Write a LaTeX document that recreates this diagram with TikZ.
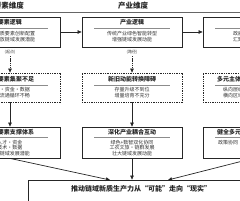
\documentclass[tikz,border=0pt]{standalone}
\usepackage{fontspec}
\setmainfont{Noto Sans CJK SC}
\usetikzlibrary{arrows.meta,calc}
\begin{document}
\begin{tikzpicture}[x=1pt,y=-1pt,
  box/.style={draw=black!85, line width=0.8pt, minimum width=100pt, inner sep=0pt},
  dbox/.style={box, dash pattern=on 1.3pt off 1pt},
  hdr/.style={font=\bfseries\fontsize{7.5}{7.5}\selectfont, inner sep=0pt, text=black!85},
  ttl/.style={font=\bfseries\fontsize{6}{6}\selectfont, inner sep=0pt, text=black!85},
  txt/.style={font=\fontsize{5}{5}\selectfont, inner sep=0pt, text=black!80},
  lab/.style={font=\fontsize{4}{4}\selectfont, inner sep=0pt, text=black!75},
  sep/.style={draw=black!45, line width=0.4pt},
  arr/.style={-{Triangle[length=4pt,width=3.6pt]}, line width=0.7pt, draw=black!85},
  darr/.style={arr, dash pattern=on 1.2pt off 0.9pt}
]
\useasboundingbox (0,0) rectangle (240,200);
% headers
\node[hdr] (H1) at (9,6) {要素维度};
\node[hdr] (H2) at (133,6) {产业维度};
\draw[draw=black!60, line width=0.6pt] (-50,12) -- (300,12);
% row 1
\node[box, minimum height=30pt] (L1) at (10,32) {};
\node[box, minimum height=30pt] (M1) at (132,32) {};
\node[box, minimum height=30pt] (R1) at (253,32) {};
\node[ttl] (L1t) at (10,22.5) {要素逻辑};
\node[ttl] (M1t) at (132,22.5) {产业逻辑};
\node[ttl] (R1t) at (254,22.5) {政策逻辑};
\foreach \c in {10,132,253} \draw[sep] (\c-38,28) -- (\c+38,28);
\node[txt] (L1a) at (10,33.5) {推进优质要素创新配置};
\node[txt] (L1b) at (10,40) {激发释放链域发展潜能};
\node[txt] (M1a) at (132,33.5) {传统产业绿色智能转型};
\node[txt] (M1b) at (132,40) {增强链域发展动能};
\node[txt] (R1a) at (253,33.5) {政府市场协同发力};
\node[txt] (R1b) at (253,40) {汇聚链域发展合力};
\draw[arr] (L1.east) -- (M1.west);
\draw[arr] (M1.east) -- (R1.west);
% labels
\node[lab] (La) at (10,52) {(起点)};
\node[lab] (Ma) at (132,52) {(路径)};
% row 2
\node[dbox, minimum height=29pt] (L2) at (10,87.5) {};
\node[dbox, minimum height=29pt] (M2) at (132,87.5) {};
\node[dbox, minimum height=29pt] (R2) at (253,87.5) {};
\draw[darr] (La.south) ++(0,2) -- (L2.north);
\draw[darr] (Ma.south) ++(0,2) -- (M2.north);
\node[ttl] (L2t) at (10,79.5) {创新要素集聚不足};
\node[ttl] (M2t) at (132,79.5) {新旧动能转换障碍};
\node[ttl] (R2t) at (253,79.5) {多元主体协同联动机制不畅};
\foreach \c in {10,132,253} \draw[sep] (\c-38,85) -- (\c+38,85);
\node[txt] (L2a) at (10,90) {人才·资金·数据};
\node[txt] (L2b) at (10,96) {跨域流通循环不畅};
\node[txt] (M2a) at (132,90) {存量升级不到位};
\node[txt] (M2b) at (132,96) {增量培育不充分};
\node[txt] (R2a) at (253,90) {纵向层级联动机制不够紧密};
\node[txt] (R2b) at (253,96) {横向区域协作共享不够充分};
% row 3
\node[box, minimum height=31pt] (L3) at (10,142.5) {};
\node[box, minimum height=31pt] (M3) at (132,142.5) {};
\node[box, minimum height=31pt] (R3) at (253,142.5) {};
\draw[arr] (L2.south) -- (L3.north);
\draw[arr] (M2.south) -- (M3.north);
\node[ttl] (L3t) at (10,132.5) {强化要素支撑体系};
\node[ttl] (M3t) at (132,132.5) {深化产业耦合互动};
\node[ttl] (R3t) at (253,132.5) {健全多元主体协同治理体系};
\foreach \c in {10,132,253} \draw[sep] (\c-38,137.5) -- (\c+38,137.5);
\node[txt] (L3a) at (10,142.5) {人才·资金};
\node[txt] (L3b) at (10,148) {技术·数据};
\node[txt] (L3c) at (10,153.5) {激发链域发展潜能};
\node[txt] (M3a) at (132,142.5) {绿色+数智双化协同};
\node[txt] (M3b) at (132,148) {工农文旅·链群发展};
\node[txt] (M3c) at (132,153.5) {壮大链域发展动能};
\node[txt] (R3a) at (253,142.5) {政策协同·制度创新·服务保障};
\node[txt] (R3b) at (254,148) {共建共享};
\node[txt] (R3c) at (254,153.5) {形成合力};
% bottom
\node[box, minimum width=232pt, minimum height=26pt] (B) at (144,193) {};
\node[font=\bfseries\fontsize{7}{7}\selectfont, inner sep=0pt, text=black!85] (Bt) at (141,189) {推动链域新质生产力从“可能”走向“现实”};
\coordinate (bL) at (110,180);
\coordinate (bR) at (168,180);
\draw[arr] (L3.south) -- (bL);
\draw[arr] (M3.south) -- (M3.south |- B.north);
\draw[arr] (R3.south) -- (bR);
\end{tikzpicture}
\end{document}
